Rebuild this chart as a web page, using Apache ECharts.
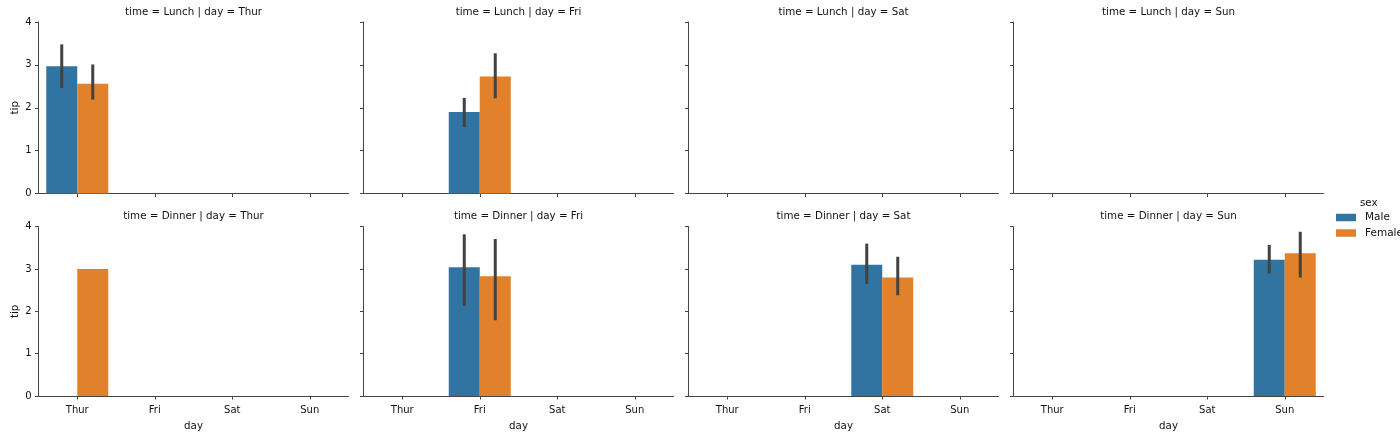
<!DOCTYPE html>
<html>
<head>
<meta charset="utf-8">
<script src="https://cdn.jsdelivr.net/npm/echarts@6/dist/echarts.min.js"></script>
<style>html,body{margin:0;padding:0;background:#fff}#c{width:1400px;height:432px}</style>
</head>
<body>
<div id="c"></div>
<script>
var days = ['Thur', 'Fri', 'Sat', 'Sun'];
var times = ['Lunch', 'Dinner'];
var yTicks = [0, 1, 2, 3, 4];

// mean tip per day (index = day)
var maleLunch = [2.97, 1.90, null, null];
var femaleLunch = [2.56, 2.73, null, null];
var maleDinner = [null, 3.04, 3.10, 3.22];
var femaleDinner = [3.00, 2.83, 2.80, 3.37];

// confidence intervals (low / high)
var maleLunchLo = [2.46, 1.55, null, null];
var maleLunchHi = [3.48, 2.23, null, null];
var femaleLunchLo = [2.19, 2.22, null, null];
var femaleLunchHi = [3.01, 3.27, null, null];
var maleDinnerLo = [null, 2.13, 2.65, 2.89];
var maleDinnerHi = [null, 3.82, 3.60, 3.57];
var femaleDinnerLo = [null, 1.79, 2.38, 2.80];
var femaleDinnerHi = [null, 3.71, 3.29, 3.88];

var maleColor = '#3274a1', femaleColor = '#e1812c', errColor = '#424242';
var axisColor = '#444', textColor = '#111', FONT = 'DejaVu Sans';

var panelLeft = [38.5, 363.5, 688.5, 1013.5];
var panelWidth = 310;
var rowTop = [22, 226.7];
var panelHeight = 171.5;

var grids = [], xAxes = [], yAxes = [], series = [], titles = [];
var idx = 0;
times.forEach(function (t, r) {
  var mArr = r === 0 ? maleLunch : maleDinner;
  var fArr = r === 0 ? femaleLunch : femaleDinner;
  var mLo = r === 0 ? maleLunchLo : maleDinnerLo;
  var mHi = r === 0 ? maleLunchHi : maleDinnerHi;
  var fLo = r === 0 ? femaleLunchLo : femaleDinnerLo;
  var fHi = r === 0 ? femaleLunchHi : femaleDinnerHi;
  days.forEach(function (d, c) {
    grids.push({left: panelLeft[c], top: rowTop[r], width: panelWidth, height: panelHeight, containLabel: false});
    titles.push({
      text: 'time = ' + t + ' | day = ' + d, padding: 0,
      left: panelLeft[c] + panelWidth / 2, top: r === 0 ? 7.5 : 211.5, textAlign: 'center',
      textStyle: {fontFamily: FONT, fontSize: 10.3, fontWeight: 'normal', color: textColor}
    });
    xAxes.push({
      type: 'category', gridIndex: idx, data: days, boundaryGap: true,
      name: r === 1 ? 'day' : '', nameLocation: 'middle', nameGap: 25,
      nameTextStyle: {fontFamily: FONT, fontSize: 10.3, color: textColor},
      axisLine: {show: true, lineStyle: {color: axisColor, width: 1}},
      axisTick: {show: true, alignWithLabel: true, length: 3.5, lineStyle: {color: axisColor}},
      axisLabel: {show: r === 1, margin: 9, fontFamily: FONT, fontSize: 10, color: textColor},
      splitLine: {show: false}
    });
    yAxes.push({
      type: 'value', gridIndex: idx, min: 0, max: 4, interval: 1,
      name: c === 0 ? 'tip' : '', nameLocation: 'middle', nameGap: 18, nameRotate: 90,
      nameTextStyle: {fontFamily: FONT, fontSize: 10.3, color: textColor},
      axisLine: {show: true, lineStyle: {color: axisColor, width: 1}},
      axisTick: {show: true, length: 3.5, lineStyle: {color: axisColor}},
      axisLabel: {show: c === 0, margin: 7, fontFamily: FONT, fontSize: 10, color: textColor},
      splitLine: {show: false}
    });
    var mData = days.map(function (_, k) { return k === c ? mArr[k] : null; });
    var fData = days.map(function (_, k) { return k === c ? fArr[k] : null; });
    series.push({name: 'Male', type: 'bar', xAxisIndex: idx, yAxisIndex: idx, data: mData,
      barWidth: '40%', barGap: '0%', itemStyle: {color: maleColor}, silent: true, animation: false});
    series.push({name: 'Female', type: 'bar', xAxisIndex: idx, yAxisIndex: idx, data: fData,
      barWidth: '40%', barGap: '0%', itemStyle: {color: femaleColor}, silent: true, animation: false});
    var err = [];
    if (mLo[c] != null) err.push([c, mLo[c], mHi[c], -1]);
    if (fLo[c] != null) err.push([c, fLo[c], fHi[c], 1]);
    series.push({
      type: 'custom', xAxisIndex: idx, yAxisIndex: idx, data: err, z: 10, silent: true, animation: false,
      encode: {x: 0, y: [1, 2]},
      renderItem: function (params, api) {
        var bw = api.size([1, 0])[0];
        var off = api.value(3) * 0.2 * bw;
        var p1 = api.coord([api.value(0), api.value(1)]);
        var p2 = api.coord([api.value(0), api.value(2)]);
        return {type: 'line', shape: {x1: p1[0] + off, y1: p1[1], x2: p2[0] + off, y2: p2[1]},
          style: {stroke: errColor, lineWidth: 3}};
      }
    });
    idx++;
  });
});

titles.push({text: 'sex', left: 1360, top: 198, padding: 0,
  textStyle: {fontFamily: FONT, fontSize: 10.3, fontWeight: 'normal', color: textColor}});

var chart = echarts.init(document.getElementById('c'), null, {renderer: 'canvas'});
chart.setOption({
  animation: false,
  backgroundColor: '#fff',
  title: titles,
  legend: {
    data: ['Male', 'Female'], orient: 'vertical', left: 1336, top: 212,
    itemWidth: 20, itemHeight: 7.5, itemGap: 4.5, icon: 'rect',
    textStyle: {fontFamily: FONT, fontSize: 10.5, color: textColor, padding: [0, 0, 0, 4]},
    selectedMode: false, padding: 0
  },
  grid: grids, xAxis: xAxes, yAxis: yAxes, series: series
});
</script>
</body>
</html>
